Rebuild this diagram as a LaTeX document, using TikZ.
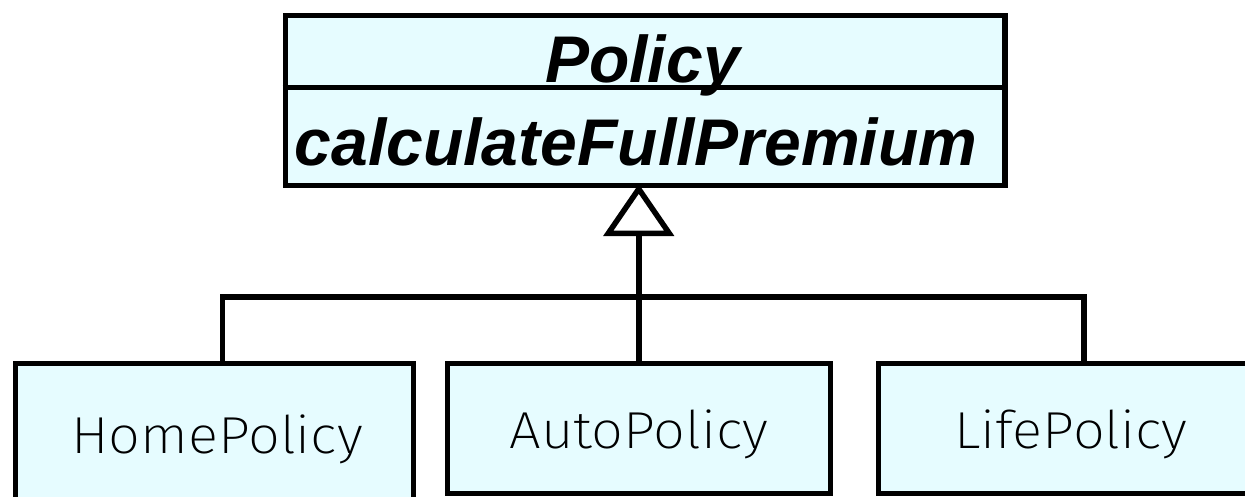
\documentclass[tikz,border=0pt]{standalone}
\usepackage{fontspec}
\setmainfont{Liberation Sans}
\newfontfamily\lightfont{Fira Sans ExtraLight}[FakeStretch=1.08]
\usetikzlibrary{arrows.meta,calc}
\definecolor{classfill}{RGB}{230,252,255}
\tikzset{
  classbox/.style={draw=black, line width=5.5pt, fill=classfill, inner sep=0pt, anchor=north west},
  link/.style={draw=black, line width=5.5pt, line join=miter},
  abstractname/.style={font=\fontsize{66}{66}\selectfont\bfseries\itshape, anchor=base, inner sep=0pt},
  plainname/.style={font=\fontsize{52}{52}\selectfont\lightfont, anchor=base, inner sep=0pt},
}
\begin{document}
\begin{tikzpicture}[x=1pt, y=-1pt]
  \useasboundingbox (0,0) rectangle (1245,496);

  % abstract base class with its operation compartment
  \node[classbox, minimum width=719.5pt, minimum height=170pt] (policy) at (282.5,12.5) {};
  \draw[link] (policy.west |- 0,87.5) coordinate (divL) -- (policy.east |- divL) coordinate (divR);
  \node[abstractname] (policyname) at (642.5,82) {Policy};
  \node[abstractname] (policyop) at (636,165) {calculateFullPremium};

  % concrete subclasses
  \node[classbox, minimum width=398pt, minimum height=160pt] (home) at (12.5,360.5) {};
  \node[classbox, minimum width=383pt, minimum height=130pt] (auto) at (444.5,360.5) {};
  \node[classbox, minimum width=400pt, minimum height=130pt] (life) at (875.5,360.5) {};

  \node[plainname] (homename) at (217,453) {HomePolicy};
  \node[plainname] (autoname) at (639,448) {AutoPolicy};
  \node[plainname] (lifename) at (1071,448) {LifePolicy};

  % generalization tree
  \coordinate (homeTap) at ([xshift=8pt]home.north);
  \coordinate (lifeTap) at ([xshift=208.5pt]life.north west);
  \draw[link] (homeTap) -- ++(0,-63.5) -| (lifeTap);
  \draw[link, -{Triangle[open, length=52pt, width=70pt, line width=5.5pt]}]
    (auto.north) -- ([yshift=4pt]auto.north |- policy.south);
\end{tikzpicture}
\end{document}
